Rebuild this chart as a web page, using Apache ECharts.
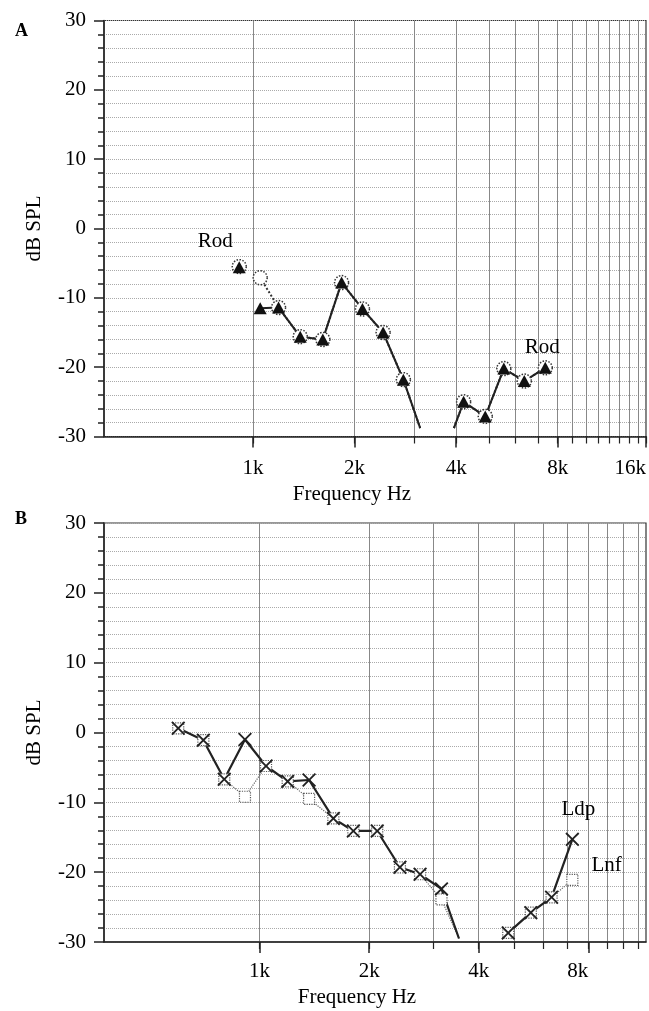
<!DOCTYPE html>
<html>
<head>
<meta charset="utf-8">
<script src="https://cdn.jsdelivr.net/npm/echarts@6/dist/echarts.min.js"></script>
<style>
  html, body { margin: 0; padding: 0; background: #fff; }
  #chart { width: 649px; height: 1011px; }
</style>
</head>
<body>
<div id="chart"></div>
<script>
// panel A: frequencies in Hz, null = break in the line
const freqA = [910, null, 1050, 1190, 1380, 1610, 1830, 2110, 2430, 2790, 3130, null, 3940, 4210, 4880, 5540, 6370, 7350]
const rodTriA = [-5.6, null, -11.5, -11.4, -15.6, -16.0, -7.8, -11.6, -15.0, -21.8, -28.8, null, -28.8, -25.0, -27.1, -20.2, -22.0, -20.1]
const rodCircA = [-5.5, null, -7.1, -11.4, -15.6, -16.0, -7.8, -11.6, -15.0, -21.8, -28.8, null, -28.8, -25.0, -27.1, -20.2, -22.0, -20.1]
// the line runs on to these without a marker
const lineEndsA = [3130, 3940]

// panel B
const freqB = [598, 701, 800, 912, 1042, 1195, 1368, 1595, 1810, 2105, 2430, 2760, 3160, 3530, null, 4820, 5560, 6340, 7230]
const ldpB = [0.6, -1.1, -6.7, -1.0, -4.8, -7.0, -6.8, -12.3, -14.1, -14.1, -19.3, -20.3, -22.4, -29.5, null, -28.7, -25.8, -23.6, -15.3]
const lnfB = [0.6, -1.1, -6.7, -9.2, -4.8, -7.0, -9.5, -12.3, -14.1, -14.1, -19.3, -20.3, -23.9, -29.5, null, -28.7, -25.8, -23.6, -21.1]
const lineEndsB = [3530]

// axes
const tickLabelsA = [1000, 2000, 4000, 8000, 16000]
const tickLabelsB = [1000, 2000, 4000, 8000]
const gridFreqsA = [1000, 2000, 3000, 4000, 5000, 6000, 7000, 8000, 9000, 10000, 11000, 12000, 13000, 14000, 15000, 16000]
const gridFreqsB = [1000, 2000, 3000, 4000, 5000, 6000, 7000, 8000, 9000, 10000, 11000]

// x is drawn in octaves re 1 kHz; the top octave of panel A is squeezed as in the original
const posA = (f) => {
  const o = Math.log2(f / 1000)
  return o <= 3 ? o : 3 + (o - 3) * 0.87
}
const posB = (f) => Math.log2(f / 1000)

const FONT = 'Liberation Serif'
const FS = 21
const X_PATH = 'path://M1.5,0 L8,6.5 L14.5,0 L16,1.5 L9.5,8 L16,14.5 L14.5,16 L8,9.5 L1.5,16 L0,14.5 L6.5,8 L0,1.5 Z'

function points(freqs, vals, pos, ends) {
  return freqs.map((f, i) => {
    if (f == null || vals[i] == null) return [null, null]
    const item = { value: [pos(f), vals[i]] }
    if (ends.includes(f)) item.symbol = 'none'
    return item
  })
}

function kLabel(list, pos) {
  return (v) => {
    const f = list.find((x) => Math.abs(pos(x) - v) < 1e-6)
    return f ? f / 1000 + 'k' : ''
  }
}

function xAxes(gridIndex, pos, min, max, labels, lines, nameGap, labelMargin, namePad) {
  return [
    {
      type: 'value', gridIndex, position: 'bottom', min, max,
      name: 'Frequency Hz', nameLocation: 'middle', nameGap,
      nameTextStyle: { fontFamily: FONT, fontSize: FS, color: '#000', padding: [0, namePad, 0, 0] },
      axisLine: { show: true, onZero: false, lineStyle: { color: '#222', width: 1.5 } },
      axisTick: { show: true, length: 11, customValues: labels.map(pos), lineStyle: { color: '#222', width: 1.5 } },
      axisLabel: {
        show: true, customValues: labels.map(pos), formatter: kLabel(labels, pos),
        fontFamily: FONT, fontSize: FS, color: '#000', margin: labelMargin,
        alignMaxLabel: 'right', showMaxLabel: true,
      },
      splitLine: { show: false },
    },
    {
      type: 'value', gridIndex, position: 'bottom', min, max,
      axisLine: { show: false, onZero: false },
      axisTick: { show: true, length: 7, customValues: lines.map(pos), lineStyle: { color: '#222', width: 1.2 } },
      axisLabel: { show: false },
      splitLine: { show: true, lineStyle: { color: '#888', width: 1, type: 'solid' } },
    },
  ]
}

function yAxis(gridIndex) {
  return {
    type: 'value', gridIndex, min: -30, max: 30, interval: 10,
    name: 'dB SPL', nameLocation: 'middle', nameGap: 59,
    nameTextStyle: { fontFamily: FONT, fontSize: FS, color: '#000' },
    axisLine: { show: true, onZero: false, lineStyle: { color: '#222', width: 1.5 } },
    axisTick: { show: true, length: 10, lineStyle: { color: '#222', width: 1.5 } },
    minorTick: { show: true, splitNumber: 5, length: 6, lineStyle: { color: '#222', width: 1.5 } },
    axisLabel: { fontFamily: FONT, fontSize: FS, color: '#000', margin: 18 },
    splitLine: { show: true, lineStyle: { color: '#aaa', width: 1, type: 'dotted' } },
    minorSplitLine: { show: true, lineStyle: { color: '#aaa', width: 1, type: 'dotted' } },
  }
}

const triA = points(freqA, rodTriA, posA, lineEndsA)
const circA = points(freqA, rodCircA, posA, lineEndsA)
const ldp = points(freqB, ldpB, posB, lineEndsB)
const lnf = points(freqB, lnfB, posB, lineEndsB)

const labelStyle = { show: true, fontFamily: FONT, fontSize: FS, color: '#000' }
triA[0].label = { ...labelStyle, formatter: 'Rod', position: 'top', offset: [-24, -4] }
triA[triA.length - 1].label = { ...labelStyle, formatter: 'Rod', position: 'top', offset: [-3, 1] }
ldp[ldp.length - 1].label = { ...labelStyle, formatter: 'Ldp', position: 'top', offset: [6, -7] }
lnf[lnf.length - 1].label = { ...labelStyle, formatter: 'Lnf', position: 'right', offset: [8, -14] }

const chart = echarts.init(document.getElementById('chart'), null, { renderer: 'canvas' })
chart.setOption({
  animation: false,
  backgroundColor: '#fff',
  textStyle: { fontFamily: FONT },
  title: [
    { text: 'A', left: 10, top: 17, textStyle: { fontFamily: FONT, fontSize: 18, fontWeight: 'bold', color: '#000' } },
    { text: 'B', left: 10, top: 505, textStyle: { fontFamily: FONT, fontSize: 18, fontWeight: 'bold', color: '#000' } },
  ],
  grid: [
    { left: 104, right: 3, top: 20.5, height: 416, containLabel: false, show: true, borderColor: '#333', borderWidth: 1.2, backgroundColor: 'transparent' },
    { left: 104, right: 3, top: 523, height: 419, containLabel: false, show: true, borderColor: '#333', borderWidth: 1.2, backgroundColor: 'transparent' },
  ],
  xAxis: [
    ...xAxes(0, posA, -1.468, posA(16000), tickLabelsA, gridFreqsA, 47, 21, 46),
    ...xAxes(1, posB, -1.419, 3.526, tickLabelsB, gridFreqsB, 45, 19, 36),
  ],
  yAxis: [yAxis(0), yAxis(1)],
  series: [
    {
      type: 'line', xAxisIndex: 0, yAxisIndex: 0, data: circA,
      symbol: 'circle', symbolSize: 14,
      itemStyle: { color: '#fff', borderColor: '#333', borderWidth: 1.5, borderType: 'dotted' },
      lineStyle: { color: '#333', width: 2, type: 'dotted' },
    },
    {
      type: 'line', xAxisIndex: 0, yAxisIndex: 0, data: triA,
      symbol: 'triangle', symbolSize: [13, 12],
      itemStyle: { color: '#111' },
      lineStyle: { color: '#222', width: 2 },
    },
    {
      type: 'line', xAxisIndex: 2, yAxisIndex: 1, data: lnf,
      symbol: 'rect', symbolSize: 11,
      itemStyle: { color: '#fff', borderColor: '#555', borderWidth: 1.2, borderType: 'dotted' },
      lineStyle: { color: '#666', width: 1.2, type: 'dotted' },
    },
    {
      type: 'line', xAxisIndex: 2, yAxisIndex: 1, data: ldp,
      symbol: X_PATH, symbolSize: 14,
      itemStyle: { color: '#222' },
      lineStyle: { color: '#222', width: 2.2 },
    },
  ],
})
</script>
</body>
</html>
